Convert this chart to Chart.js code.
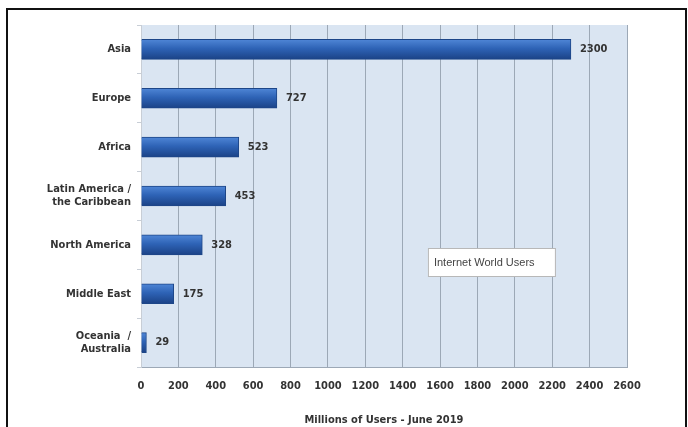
<!DOCTYPE html>
<html>
<head>
<meta charset="utf-8">
<script src="https://cdn.jsdelivr.net/npm/chart.js@4/dist/chart.umd.min.js"></script>
<style>
  html, body { margin: 0; padding: 0; background: #fff; }
  #wrap { position: relative; width: 688px; height: 427px; overflow: hidden; }
  #frame { position: absolute; left: 6px; top: 8px; width: 677px; height: 440px; border: 2px solid #111; pointer-events: none; }
</style>
</head>
<body>
<div id="wrap">
  <canvas id="grafico" width="688" height="427"></canvas>
  <div id="frame"></div>
</div>
<script>
let ctx = document.getElementById('grafico')

// dados
const regioes = ['Asia', 'Europe', 'Africa', ['Latin America /', 'the Caribbean'], 'North America', 'Middle East', ['Oceania  /', 'Australia']]
const usuarios = [2300, 727, 523, 453, 328, 175, 29]
const xTicks = [0, 200, 400, 600, 800, 1000, 1200, 1400, 1600, 1800, 2000, 2200, 2400, 2600]
const tituloX = 'Millions of Users - June 2019'
const caixaTexto = 'Internet World Users'

const fonte = "'DejaVu Sans Condensed', 'Liberation Sans Narrow', sans-serif"
Chart.defaults.font.family = fonte
Chart.defaults.font.weight = 'bold'
Chart.defaults.color = '#333'

// fundo azul da área do gráfico
const fundo = {
  id: 'fundo',
  beforeDraw(chart) {
    const a = chart.chartArea
    const c = chart.ctx
    c.save()
    c.fillStyle = '#dae5f2'
    c.fillRect(a.left, a.top, a.right - a.left, a.bottom - a.top)
    c.restore()
  }
}

// degradê vertical em cada barra
function corBarra(context) {
  const chart = context.chart
  if (!chart.chartArea || !chart.scales.y) return '#2c5eae'
  const y = chart.scales.y.getPixelForValue(context.dataIndex)
  const g = chart.ctx.createLinearGradient(0, y - 10, 0, y + 10)
  g.addColorStop(0, '#4f86d6')
  g.addColorStop(0.45, '#2e63b6')
  g.addColorStop(1, '#1b4286')
  return g
}

// valores no fim das barras + caixa de texto
const rotulos = {
  id: 'rotulos',
  afterDatasetsDraw(chart) {
    const c = chart.ctx
    const meta = chart.getDatasetMeta(0)
    c.save()
    c.font = "bold 11px " + fonte
    c.fillStyle = '#333'
    c.textBaseline = 'middle'
    meta.data.forEach((bar, i) => {
      c.fillText(usuarios[i], bar.x + 9, bar.y)
    })
    // caixa "Internet World Users"
    const x = chart.scales.x.getPixelForValue(1535)
    const y = 248
    c.fillStyle = '#fff'
    c.fillRect(x, y, 127, 28)
    c.strokeStyle = '#b8b8b8'
    c.lineWidth = 1
    c.strokeRect(x + 0.5, y + 0.5, 127, 28)
    c.font = "11px 'Liberation Sans', sans-serif"
    c.fillStyle = '#444'
    c.fillText(caixaTexto, x + 6, y + 15)
    c.restore()
  }
}

const data = {
  labels: regioes,
  datasets: [{
    data: usuarios,
    backgroundColor: corBarra,
    borderColor: '#1d4688',
    borderWidth: 1,
    barThickness: 20
  }]
}

const config = {
  type: 'bar',
  data,
  options: {
    indexAxis: 'y',
    responsive: false,
    animation: false,
    layout: { padding: { top: 25, right: 61, left: 0, bottom: 0 } },
    plugins: { legend: { display: false }, tooltip: { enabled: false } },
    scales: {
      x: {
        min: 0,
        max: 2600,
        afterBuildTicks(scale) { scale.ticks = xTicks.map(v => ({ value: v })) },
        afterFit(scale) { scale.height = 60 },
        grid: { color: '#9ca8b6', lineWidth: 1, drawTicks: false },
        border: { color: '#9ca8b6' },
        ticks: { font: { size: 11, weight: 'bold' }, padding: 13, color: '#333', maxRotation: 0, callback: v => String(v) },
        title: { display: true, text: tituloX, font: { size: 11, weight: 'bold' }, color: '#333', padding: 0 }
      },
      y: {
        afterFit(scale) { scale.width = 141 },
        grid: { offset: true, drawOnChartArea: false, tickLength: 4, color: '#c8ced6' },
        border: { color: '#c8ced6' },
        ticks: { font: { size: 11, weight: 'bold' }, padding: 6, color: '#333' }
      }
    }
  },
  plugins: [fundo, rotulos]
}

const graph = new Chart(ctx, config)
</script>
</body>
</html>
